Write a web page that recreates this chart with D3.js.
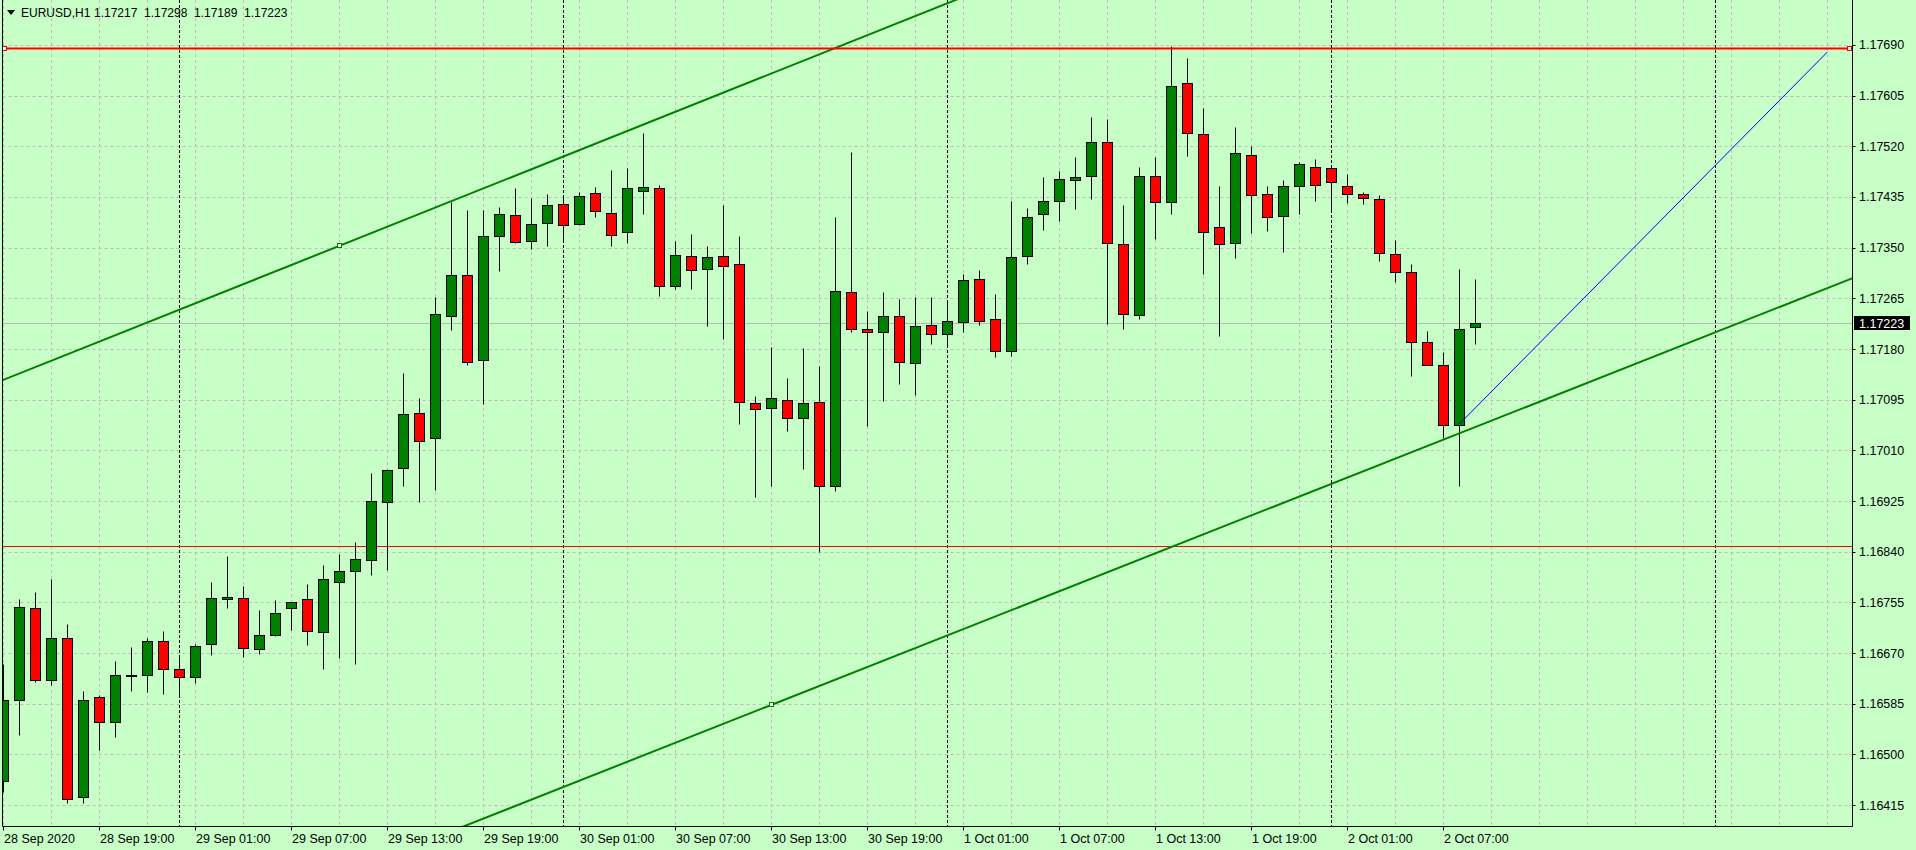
<!DOCTYPE html>
<html>
<head>
<meta charset="utf-8">
<script src="https://cdn.jsdelivr.net/npm/d3@7"></script>
<style>
  body { margin: 0; background: #c7ffc7; }
  svg { display: block; font-family: "Liberation Sans", Arial, sans-serif; }
</style>
</head>
<body>
<svg id="chart" width="1916" height="850"></svg>
<script>
// ------------------- DATA -------------------
var symbol = "EURUSD,H1";
var headerValues = ["1.17217", "1.17298", "1.17189", "1.17223"];

// hourly bars, 28 Sep 13:00 -> 2 Oct 09:00
var opens = [1.16455,1.16591,1.16745,1.16624,1.16695,1.16428,1.16596,1.16554,1.16634,1.16634,
  1.16691,1.16644,1.16629,1.16686,1.16760,1.16762,1.16676,1.16701,1.16745,1.16760,
  1.16705,1.16790,1.16807,1.16826,1.16923,1.16980,1.17072,1.17030,1.17235,1.17304,
  1.17161,1.17369,1.17404,1.17361,1.17391,1.17424,1.17389,1.17441,1.17408,1.17376,
  1.17445,1.17450,1.17285,1.17336,1.17314,1.17336,1.17322,1.17089,1.17081,1.17094,
  1.17065,1.17091,1.16951,1.17275,1.17213,1.17208,1.17235,1.17156,1.17220,1.17205,
  1.17225,1.17297,1.17230,1.17176,1.17336,1.17406,1.17428,1.17463,1.17471,1.17527,
  1.17356,1.17237,1.17470,1.17426,1.17626,1.17540,1.17384,1.17357,1.17505,1.17440,
  1.17403,1.17453,1.17486,1.17483,1.17453,1.17440,1.17431,1.17339,1.17309,1.17191,
  1.17153,1.17052,1.17217];
var highs = [1.16652,1.16760,1.16772,1.16794,1.16718,1.16606,1.16600,1.16657,1.16680,1.16695,
  1.16707,1.16665,1.16685,1.16789,1.16833,1.16783,1.16742,1.16759,1.16756,1.16786,
  1.16817,1.16836,1.16857,1.16972,1.16979,1.17140,1.17097,1.17267,1.17427,1.17413,
  1.17413,1.17418,1.17450,1.17434,1.17440,1.17435,1.17443,1.17452,1.17480,1.17484,
  1.17542,1.17455,1.17361,1.17373,1.17353,1.17421,1.17370,1.17101,1.17183,1.17131,
  1.17181,1.17152,1.17401,1.17510,1.17244,1.17276,1.17264,1.17267,1.17267,1.17259,
  1.17306,1.17312,1.17272,1.17428,1.17417,1.17469,1.17479,1.17502,1.17569,1.17565,
  1.17421,1.17485,1.17502,1.17688,1.17668,1.17585,1.17453,1.17552,1.17520,1.17453,
  1.17463,1.17493,1.17498,1.17485,1.17474,1.17443,1.17438,1.17362,1.17322,1.17210,
  1.17175,1.17314,1.17298];
var lows = [1.16437,1.16533,1.16622,1.16617,1.16419,1.16418,1.16508,1.16530,1.16607,1.16605,
  1.16602,1.16600,1.16620,1.16667,1.16746,1.16664,1.16669,1.16699,1.16708,1.16684,
  1.16644,1.16661,1.16652,1.16801,1.16810,1.16951,1.16924,1.16944,1.17212,1.17154,
  1.17088,1.17311,1.17358,1.17347,1.17353,1.17361,1.17388,1.17401,1.17353,1.17357,
  1.17407,1.17269,1.17281,1.17281,1.17219,1.17197,1.17055,1.16932,1.16951,1.17043,
  1.16979,1.16840,1.16941,1.17209,1.17051,1.17092,1.17122,1.17103,1.17189,1.17184,
  1.17209,1.17221,1.17166,1.17169,1.17323,1.17380,1.17395,1.17415,1.17432,1.17222,
  1.17214,1.17230,1.17364,1.17406,1.17503,1.17305,1.17201,1.17333,1.17375,1.17378,
  1.17342,1.17407,1.17429,1.17412,1.17425,1.17424,1.17328,1.17293,1.17134,1.17153,
  1.17030,1.16951,1.17189];
var closes = [1.16591,1.16747,1.16624,1.16695,1.16426,1.16592,1.16554,1.16633,1.16631,1.16691,
  1.16644,1.16629,1.16681,1.16762,1.16764,1.16678,1.16701,1.16738,1.16755,1.16707,
  1.16795,1.16807,1.16827,1.16925,1.16977,1.17071,1.17025,1.17238,1.17304,1.17159,
  1.17369,1.17406,1.17360,1.17389,1.17421,1.17388,1.17436,1.17411,1.17372,1.17450,
  1.17451,1.17285,1.17337,1.17312,1.17334,1.17319,1.17091,1.17079,1.17097,1.17064,
  1.17089,1.16951,1.17277,1.17213,1.17208,1.17235,1.17159,1.17218,1.17205,1.17227,
  1.17295,1.17227,1.17176,1.17334,1.17401,1.17429,1.17465,1.17468,1.17527,1.17357,
  1.17238,1.17471,1.17426,1.17621,1.17542,1.17376,1.17356,1.17508,1.17438,1.17401,
  1.17453,1.17490,1.17455,1.17460,1.17440,1.17433,1.17341,1.17309,1.17191,1.17154,
  1.17052,1.17213,1.17223];

// time axis labels (bar index of each label)
var xTickBars = [0, 6, 12, 18, 24, 30, 36, 42, 48, 54, 60, 66, 72, 78, 84, 90];
var xTickLabels = ["28 Sep 2020", "28 Sep 19:00", "29 Sep 01:00", "29 Sep 07:00", "29 Sep 13:00",
  "29 Sep 19:00", "30 Sep 01:00", "30 Sep 07:00", "30 Sep 13:00", "30 Sep 19:00",
  "1 Oct 01:00", "1 Oct 07:00", "1 Oct 13:00", "1 Oct 19:00", "2 Oct 01:00", "2 Oct 07:00"];
// midnight bars (day separators)
var daySeparatorBars = [11, 35, 59, 83, 107];

// price axis
var yTicks = [1.16415, 1.16500, 1.16585, 1.16670, 1.16755, 1.16840, 1.16925, 1.17010,
  1.17095, 1.17180, 1.17265, 1.17350, 1.17435, 1.17520, 1.17605, 1.17690];
var bidPrice = 1.17223;

// objects drawn on the chart: [bar, price, slope per bar]
var resistanceLevel = 1.17684;
var thinLevel = 1.16850;
var upperTrend = [21, 1.17353, 0.00010708];
var lowerTrend = [48, 1.16583, 0.00010593];
var projection = [[91, 1.17054], [114, 1.17678]];

// ------------------- SETUP -------------------
var svg = d3.select("#chart"),
  width = +svg.attr("width"),
  height = +svg.attr("height");

var plotLeft = 2.5, plotRight = 1852.5, plotBottom = 826.5;
var bg = "#c7ffc7";

var x = d3.scaleLinear().domain([0, 115]).range([3.3, 3.3 + 16 * 115]);
var y = d3.scaleLinear().domain([1.163799, 1.177654]).range([826, 0]);

function px(v) { return Math.floor(v) + 0.5; }
function py(v) { return Math.round(v) + 0.5; }

svg.append("rect").attr("width", width).attr("height", height).attr("fill", bg);

svg.append("defs").append("clipPath").attr("id", "plot")
  .append("rect")
  .attr("x", 3).attr("y", 0)
  .attr("width", plotRight - 3).attr("height", 826);

// ------------------- GRID -------------------
var grid = svg.append("g").attr("clip-path", "url(#plot)");

grid.selectAll(".hgrid")
  .data(yTicks)
  .enter()
  .append("line")
  .attr("x1", plotLeft).attr("x2", plotRight)
  .attr("y1", function(d) { return py(y(d)); })
  .attr("y2", function(d) { return py(y(d)); })
  .attr("stroke", "#c0bcc4")
  .attr("stroke-dasharray", "3,3");

grid.selectAll(".vgrid")
  .data(d3.range(0, 115, 3))
  .enter()
  .append("line")
  .attr("x1", function(d) { return px(x(d)); })
  .attr("x2", function(d) { return px(x(d)); })
  .attr("y1", 0).attr("y2", 826)
  .attr("stroke", "#c0bcc4")
  .attr("stroke-dasharray", "3,3");

grid.selectAll(".sep")
  .data(daySeparatorBars)
  .enter()
  .append("line")
  .attr("x1", function(d) { return px(x(d)); })
  .attr("x2", function(d) { return px(x(d)); })
  .attr("y1", 0).attr("y2", 826)
  .attr("stroke", "#000")
  .attr("stroke-dasharray", "3,2");

// bid line
grid.append("line")
  .attr("x1", plotLeft).attr("x2", plotRight)
  .attr("y1", py(y(bidPrice))).attr("y2", py(y(bidPrice)))
  .attr("stroke", "#b8b8b8");

// thin horizontal level
grid.append("line")
  .attr("x1", plotLeft).attr("x2", plotRight)
  .attr("y1", py(y(thinLevel))).attr("y2", py(y(thinLevel)))
  .attr("stroke", "#ff0000");

// ------------------- CANDLES -------------------
var candles = svg.append("g").attr("clip-path", "url(#plot)");

var bars = candles.selectAll(".bar")
  .data(opens.map(function(o, i) {
    return { i: i, o: o, h: highs[i], l: lows[i], c: closes[i] };
  }))
  .enter()
  .append("g");

bars.append("line")
  .attr("x1", function(d) { return px(x(d.i)); })
  .attr("x2", function(d) { return px(x(d.i)); })
  .attr("y1", function(d) { return py(y(d.h)); })
  .attr("y2", function(d) { return py(y(d.l)); })
  .attr("stroke", "#000");

bars.append("rect")
  .attr("x", function(d) { return px(x(d.i)) - 5; })
  .attr("width", 10)
  .attr("y", function(d) { return py(y(Math.max(d.o, d.c))); })
  .attr("height", function(d) {
    return Math.max(1, py(y(Math.min(d.o, d.c))) - py(y(Math.max(d.o, d.c))));
  })
  .attr("fill", function(d) { return d.c >= d.o ? "#008000" : "#ff0000"; })
  .attr("stroke", "#000");

// ------------------- OBJECTS -------------------
var objects = svg.append("g").attr("clip-path", "url(#plot)");

// channel trendlines
[upperTrend, lowerTrend].forEach(function(t) {
  var b0 = -5, b1 = 125;
  objects.append("line")
    .attr("x1", x(b0)).attr("y1", y(t[1] + t[2] * (b0 - t[0])))
    .attr("x2", x(b1)).attr("y2", y(t[1] + t[2] * (b1 - t[0])))
    .attr("stroke", "#008000")
    .attr("stroke-width", 2);
});

// blue projection line
objects.append("line")
  .attr("x1", x(projection[0][0])).attr("y1", y(projection[0][1]))
  .attr("x2", x(projection[1][0])).attr("y2", y(projection[1][1]))
  .attr("stroke", "#0000ff")
  .attr("stroke-width", 1);

// red resistance line
objects.append("line")
  .attr("x1", plotLeft).attr("x2", plotRight)
  .attr("y1", y(resistanceLevel)).attr("y2", y(resistanceLevel))
  .attr("stroke", "#ff0000")
  .attr("stroke-width", 2);

// anchor squares
var anchors = [
  { x: 5, y: y(resistanceLevel), c: "#ff0000" },
  { x: 1849.5, y: y(resistanceLevel), c: "#ff0000" },
  { x: px(x(upperTrend[0])), y: y(upperTrend[1]), c: "#008000" },
  { x: px(x(lowerTrend[0])), y: y(lowerTrend[1]), c: "#008000" }
];
objects.selectAll(".anchor")
  .data(anchors)
  .enter()
  .append("rect")
  .attr("x", function(d) { return Math.round(d.x) - 2.5; })
  .attr("y", function(d) { return Math.round(d.y) - 2.5; })
  .attr("width", 4).attr("height", 4)
  .attr("fill", "#ffffff")
  .attr("stroke", function(d) { return d.c; });

// ------------------- FRAME & AXES -------------------
svg.append("path")
  .attr("d", "M" + plotLeft + ",0V" + plotBottom + "H" + plotRight + "V0")
  .attr("fill", "none")
  .attr("stroke", "#000");

// price axis
var yAxis = svg.append("g");
yAxis.selectAll(".ytick")
  .data(yTicks)
  .enter()
  .append("line")
  .attr("x1", plotRight).attr("x2", plotRight + 3)
  .attr("y1", function(d) { return py(y(d)); })
  .attr("y2", function(d) { return py(y(d)); })
  .attr("stroke", "#000");

yAxis.selectAll(".ylabel")
  .data(yTicks)
  .enter()
  .append("text")
  .attr("x", 1859)
  .attr("y", function(d) { return y(d) + 4.5; })
  .attr("font-size", "12.5px")
  .attr("fill", "#000")
  .text(function(d) { return d.toFixed(5); });

// bid price box
yAxis.append("rect")
  .attr("x", 1854).attr("y", Math.round(y(bidPrice)) - 7)
  .attr("width", 56).attr("height", 14)
  .attr("fill", "#000");
yAxis.append("text")
  .attr("x", 1859)
  .attr("y", y(bidPrice) + 4.5)
  .attr("font-size", "12.5px")
  .attr("fill", "#fff")
  .text(bidPrice.toFixed(5));

// time axis
var xAxis = svg.append("g");
xAxis.selectAll(".xtick")
  .data(xTickBars)
  .enter()
  .append("line")
  .attr("x1", function(d) { return px(x(d)); })
  .attr("x2", function(d) { return px(x(d)); })
  .attr("y1", plotBottom).attr("y2", plotBottom + 4)
  .attr("stroke", "#000");

xAxis.selectAll(".xlabel")
  .data(xTickBars)
  .enter()
  .append("text")
  .attr("x", function(d) { return Math.max(4, Math.floor(x(d)) + 1); })
  .attr("y", 843)
  .attr("font-size", "12.5px")
  .attr("fill", "#000")
  .text(function(d, i) { return xTickLabels[i]; });

// ------------------- HEADER -------------------
svg.append("path")
  .attr("d", "M7,10H15L11,15Z")
  .attr("fill", "#000");
svg.append("text")
  .attr("x", 21).attr("y", 17)
  .attr("font-size", "12px")
  .text(symbol);
svg.selectAll(".hval")
  .data(headerValues)
  .enter()
  .append("text")
  .attr("x", function(d, i) { return 94 + i * 50; })
  .attr("y", 17)
  .attr("font-size", "12px")
  .text(function(d) { return d; });
</script>
</body>
</html>
